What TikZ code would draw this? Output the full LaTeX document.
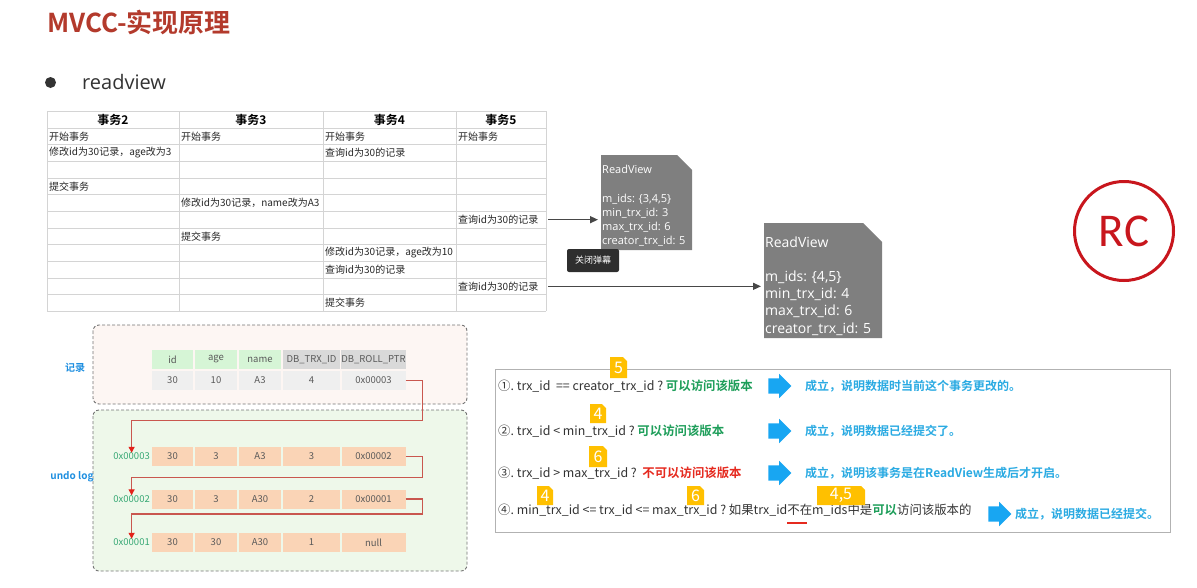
\documentclass[tikz,border=0pt]{standalone}
\usepackage{fontspec}
\setmainfont{Noto Sans CJK SC}[BoldFont={Noto Sans CJK SC Bold}]
\newfontfamily\rcfont{Carlito}
\newfontfamily\rvfont{Open Sans}
\usetikzlibrary{arrows.meta,positioning,shapes.arrows}
\frenchspacing

\definecolor{titlered}{HTML}{B33A2C}
\definecolor{gridgray}{HTML}{D4D4D4}
\definecolor{rvgray}{HTML}{7F7F7F}
\definecolor{rcred}{HTML}{C8161D}
\definecolor{linkred}{HTML}{C9574F}
\definecolor{tipred}{HTML}{E3211A}
\definecolor{labblue}{HTML}{1F8FE0}
\definecolor{recpink}{HTML}{FDF6F3}
\definecolor{undogreen}{HTML}{EEF8EA}
\definecolor{hdgreen}{HTML}{D6F5D6}
\definecolor{hdgray}{HTML}{D9D9D9}
\definecolor{rowgray}{HTML}{EFEFEF}
\definecolor{peach}{HTML}{FAD4B6}
\definecolor{addrgreen}{HTML}{36A874}
\definecolor{okgreen}{HTML}{1E9E5A}
\definecolor{nored}{HTML}{E52A1F}
\definecolor{skyblue}{HTML}{2AAAE2}
\definecolor{arrowblue}{HTML}{18A6F2}
\definecolor{tagyellow}{HTML}{FFC000}

\begin{document}
\begin{tikzpicture}[x=1pt,y=-1pt,
  tabline/.style={draw=gridgray,line width=0.8pt},
  cell/.style={anchor=west,inner sep=0pt,text=black!85,font=\fontsize{10}{12}\selectfont},
  head/.style={inner sep=0pt,text=black,font=\bfseries\fontsize{12}{14}\selectfont},
  rvbox/.style={anchor=north west,inner xsep=1pt,inner ysep=0pt,align=left,text=white,
    path picture={\fill[rvgray] (path picture bounding box.south west)
      -- (path picture bounding box.north west)
      -- ([xshift=-#1]path picture bounding box.north east)
      -- ([yshift=-#1]path picture bounding box.north east)
      -- (path picture bounding box.south east) -- cycle;}},
  rvarrow/.style={draw=black!72,line width=1.4pt,shorten >=3pt,-{Triangle[length=8pt,width=7pt]}},
  dashframe/.style={draw=black!55,line width=0.9pt,dash pattern=on 3pt off 2pt,rounded corners=6pt},
  rcell/.style={inner sep=0pt,minimum height=19pt,text=black!65,font=\fontsize{9.5}{11}\selectfont},
  addr/.style={anchor=east,inner sep=0pt,text=addrgreen,font=\fontsize{9.5}{11}\selectfont},
  sect/.style={inner sep=0pt,text=labblue,font=\bfseries\fontsize{10}{12}\selectfont},
  link/.style={draw=linkred,line width=1.1pt,-{Triangle[length=6pt,width=6pt,color=tipred]}},
  cond/.style={anchor=west,inner sep=0pt,text=black!80,font=\fontsize{12.4}{14}\selectfont},
  ans/.style={anchor=west,inner sep=0pt,text=skyblue,font=\bfseries\fontsize{12}{14}\selectfont},
  goarrow/.style={single arrow,fill=arrowblue,inner xsep=0pt,inner ysep=7.5pt,minimum height=23pt,
    single arrow head extend=4.5pt},
  tag/.style={inner sep=0pt,minimum height=19pt,minimum width=#1,text=white,
    font=\fontsize{16}{17}\selectfont,
    path picture={\fill[tagyellow] (path picture bounding box.south west)
      -- (path picture bounding box.north west)
      -- ([xshift=-4pt]path picture bounding box.north east)
      -- ([yshift=-4pt]path picture bounding box.north east)
      -- (path picture bounding box.south east) -- cycle;}}]
\useasboundingbox (0,0) rectangle (1197,587);

% heading
\node[anchor=west,inner sep=0pt,text=titlered,font=\bfseries\fontsize{26}{30}\selectfont]
  (title) at (47,22) {MVCC-实现原理};
\node[circle,fill=black!80,inner sep=0pt,minimum size=11pt] (dot) at (50.5,82.5) {};
\node[anchor=west,inner sep=0pt,text=black!80,font=\rvfont\fontsize{20}{24}\selectfont]
  (topic) at (82,82) {readview};

% transaction table
\draw[tabline] (47,111) -- (546,111);
\foreach \k in {0,...,11}
  \draw[tabline] (47,{128+16.667*\k}) -- (546,{128+16.667*\k});
\foreach \x in {47,179,323,456,546}
  \draw[tabline] (\x,111) -- (\x,311.3);
\coordinate (tabR) at (546,111);
\foreach \x/\t [count=\i] in {113/事务2,251/事务3,389.5/事务4,501/事务5}
  \node[head] (h\i) at (\x,119.5) {\t};
\foreach \c/\r/\t in {1/1/开始事务,2/1/开始事务,3/1/开始事务,4/1/开始事务,
    1/2/修改id为30记录，age改为3,3/2/查询id为30的记录,
    1/4/提交事务,
    2/5/修改id为30记录，name改为A3,
    4/6/查询id为30的记录,
    2/7/提交事务,
    3/8/修改id为30记录，age改为10,
    3/9/查询id为30的记录,
    4/10/查询id为30的记录,
    3/11/提交事务}{
  \pgfmathsetmacro{\xl}{{49,181,325,458}[\c-1]}
  \node[cell] (c\c-\r) at (\xl,{128+16.667*(\r-0.5)}) {\t};
}

% read views
\node[rvbox=15pt,text width=89pt,minimum height=95pt,font=\rvfont\fontsize{11}{14.2}\selectfont]
  (rv1) at (601,155) {\rule{0pt}{15pt}ReadView\\[14.2pt]m\_ids: \{3,4,5\}\\min\_trx\_id: 3\\max\_trx\_id: 6\\creator\_trx\_id: 5};
\node[rvbox=19pt,text width=116pt,minimum height=115pt,font=\rvfont\fontsize{14}{17.2}\selectfont]
  (rv2) at (764,223) {\rule{0pt}{21pt}ReadView\\[17.2pt]m\_ids: \{4,5\}\\min\_trx\_id: 4\\max\_trx\_id: 6\\creator\_trx\_id: 5};
\draw[rvarrow] (c4-6 -| tabR) ++(2,0) -- (c4-6 -| rv1.west);
\draw[rvarrow] (c4-10 -| tabR) ++(2,0) -- (c4-10 -| rv2.west);
\node[fill=black!82,rounded corners=2pt,text=white,font=\fontsize{9}{10}\selectfont,
  minimum width=52pt,minimum height=23pt,inner sep=0pt] (danmu) at (593,260.5) {关闭弹幕};

% isolation level
\node[circle,draw=rcred,line width=3pt,minimum size=99pt,text=rcred,
  font=\rcfont\fontsize{47}{50}\selectfont] (rc) at (1124,231) {RC};

% record and undo log
\draw[dashframe,fill=recpink] (93,325) rectangle (467,404);
\draw[dashframe,fill=undogreen] (93,410) rectangle (467,571);
\node[sect] (reclab) at (75,368) {记录};
\node[sect] (undolab) at (72,477) {undo log};
\foreach \x/\w/\h/\d/\f [count=\i] in {172.5/41/id/30/hdgreen,216/42/age/10/hdgreen,
    260/42/name/A3/hdgreen,311.5/57/DB\_TRX\_ID/4/hdgray,373.5/64/DB\_ROLL\_PTR/0x00003/hdgray}{
  \node[rcell,fill=\f,minimum width=\w] (rh\i) at (\x,359.5) {\h};
  \node[rcell,fill=rowgray,minimum width=\w] (rd\i) at (\x,380.5) {\d};
}
\foreach \y/\a/\va/\vb/\vc/\vd/\ve [count=\j] in {456.5/0x00003/30/3/A3/3/0x00002,
    499/0x00002/30/3/A30/2/0x00001,542.5/0x00001/30/30/A30/1/null}{
  \node[addr] (a\j) at (150,\y) {\a};
  \foreach \x/\w/\v [count=\i] in {172.5/41/\va,216/42/\vb,260/42/\vc,311.5/57/\vd,373.5/64/\ve}
    \node[rcell,fill=peach,minimum width=\w] (u\j-\i) at (\x,\y) {\v};
}
\draw[link] (rd5.east) -- ++(17,0) -- ++(0,40) -| (a1.north);
\draw[link] (u1-5.east) -- ++(17,0) -- ++(0,21) -| (a2.north);
\draw[link] (u2-5.east) -- ++(17,0) -- ++(0,15) -| (a3.north);

% visibility rules
\draw[draw=black!30,line width=0.8pt] (495,369) rectangle (1170,532);
\node[cond] (q1) at (498,386) {①. trx\_id\ \ == creator\_trx\_id ? \textcolor{okgreen}{\bfseries 可以访问该版本}};
\node[cond] (q2) at (498,431) {②. trx\_id < min\_trx\_id ? \textcolor{okgreen}{\bfseries 可以访问该版本}};
\node[cond] (q3) at (498,473) {③. trx\_id > max\_trx\_id ?\ \ \textcolor{nored}{\bfseries 不可以访问该版本}};
\node[cond] (q4) at (498,514) {④. min\_trx\_id <= trx\_id <= max\_trx\_id ? 如果trx\_id\rlap{\textcolor{nored}{\rule[-10pt]{20pt}{2.5pt}}}不在m\_ids中是\textcolor{okgreen}{\bfseries 可以}访问该版本的};
\node[goarrow] (g1) at (776,386) {};
\node[goarrow] (g2) at (776,431) {};
\node[goarrow] (g3) at (776,473) {};
\node[goarrow] (g4) at (996,514) {};
\node[ans] (s1) at (805,386) {成立，说明数据时当前这个事务更改的。};
\node[ans] (s2) at (805,431) {成立，说明数据已经提交了。};
\node[ans] (s3) at (805,473) {成立，说明该事务是在ReadView生成后才开启。};
\node[ans] (s4) at (1015,514) {成立，说明数据已经提交。};
\node[tag=17pt,minimum height=21pt] (t1) at (618.5,367.5) {5};
\node[tag=16pt] (t2) at (598,413.5) {4};
\node[tag=18pt,minimum height=21pt] (t3) at (598,456.5) {6};
\node[tag=16pt] (t4) at (545,495.5) {4};
\node[tag=17pt] (t5) at (695.5,495.5) {6};
\node[tag=48pt] (t6) at (841,495.5) {4,5};
\end{tikzpicture}
\end{document}
